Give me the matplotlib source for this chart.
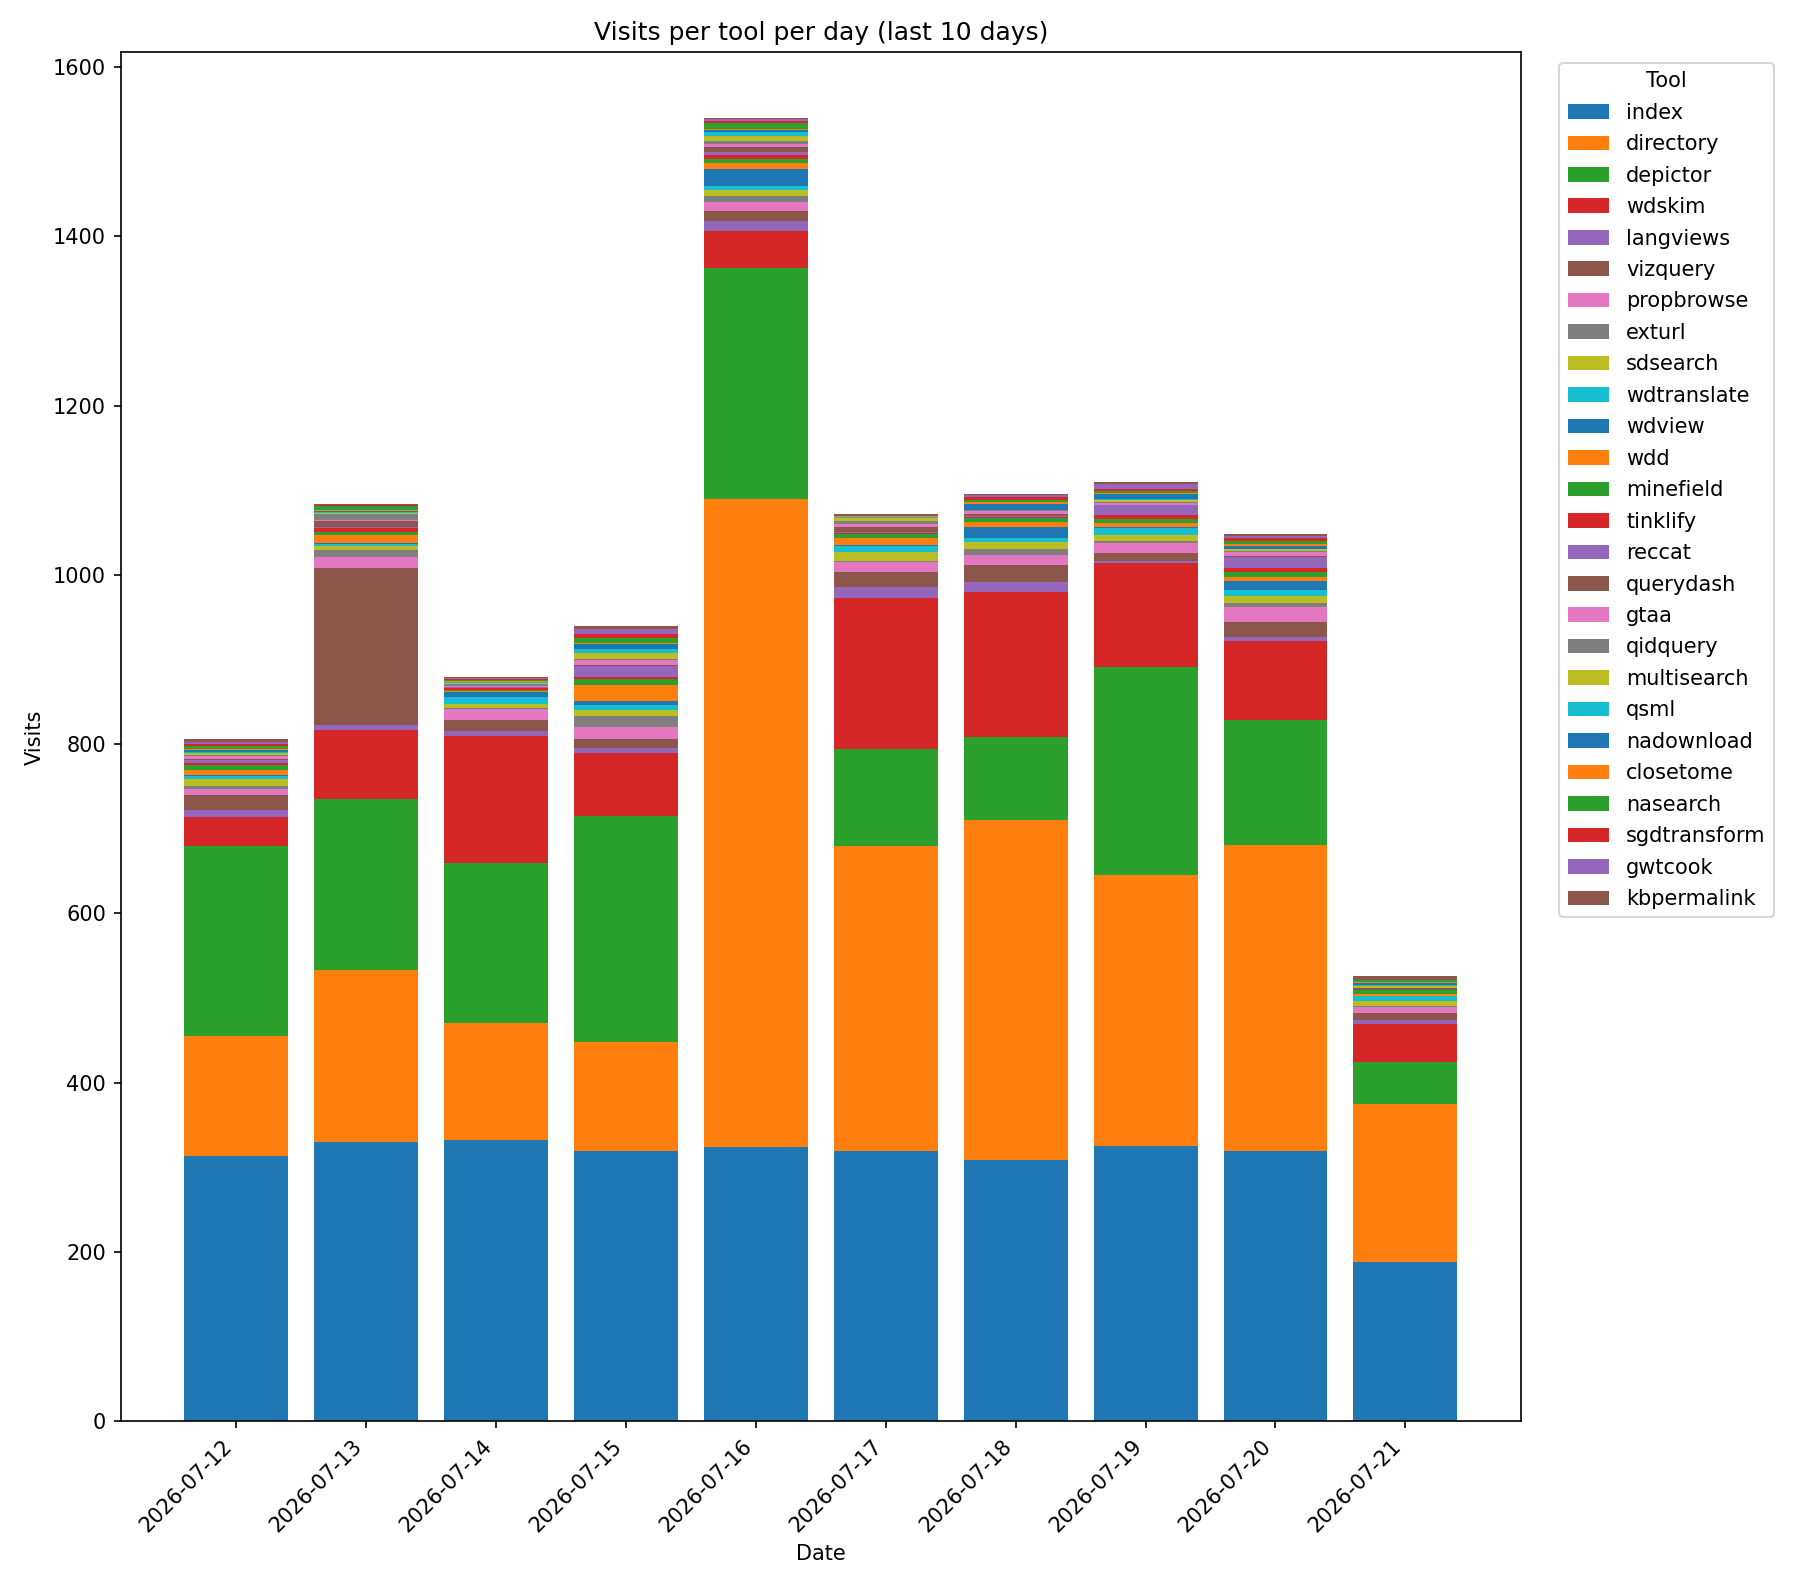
import numpy as np
import matplotlib
matplotlib.use('Agg')
import matplotlib.pyplot as plt

dates = ['2026-07-12', '2026-07-13', '2026-07-14', '2026-07-15', '2026-07-16',
         '2026-07-17', '2026-07-18', '2026-07-19', '2026-07-20', '2026-07-21']

tools = ['index', 'directory', 'depictor', 'wdskim', 'langviews', 'vizquery',
         'propbrowse', 'exturl', 'sdsearch', 'wdtranslate', 'wdview', 'wdd',
         'minefield', 'tinklify', 'reccat', 'querydash', 'gtaa', 'qidquery',
         'multisearch', 'qsml', 'nadownload', 'closetome', 'nasearch',
         'sgdtransform', 'gwtcook', 'kbpermalink']

# visits per day, one list per date, in tool order
day_0712 = [313, 142, 225, 34, 8, 18, 7, 3, 9, 3, 2, 6, 5, 3, 3, 2, 3, 1, 2, 2, 2, 1, 4, 2, 3, 3]
day_0713 = [330, 203, 202, 82, 6, 185, 13, 8, 5, 2, 2, 9, 4, 4, 2, 6, 2, 7, 1, 1, 1, 2, 4, 1, 1, 1]
day_0714 = [333, 138, 189, 150, 5, 13, 14, 1, 4, 9, 6, 1, 1, 2, 1, 1, 1, 2, 1, 1, 1, 1, 1, 1, 1, 1]
day_0715 = [320, 128, 267, 74, 7, 10, 14, 13, 7, 6, 5, 19, 7, 2, 13, 1, 6, 2, 7, 4, 6, 2, 5, 5, 6, 3]
day_0716 = [324, 765, 274, 43, 12, 12, 10, 7, 8, 4, 20, 8, 4, 5, 3, 6, 4, 3, 6, 5, 2, 2, 7, 2, 2, 2]
day_0717 = [320, 360, 114, 179, 13, 17, 12, 1, 11, 7, 1, 8, 5, 2, 1, 5, 4, 4, 3, 1, 0, 1, 0, 1, 0, 2]
day_0718 = [309, 401, 98, 172, 12, 20, 12, 7, 8, 4, 14, 5, 5, 1, 2, 2, 3, 1, 0, 1, 7, 2, 2, 4, 2, 2]
day_0719 = [325, 320, 246, 123, 2, 10, 12, 2, 7, 8, 2, 4, 5, 5, 11, 1, 2, 1, 2, 2, 5, 2, 2, 2, 6, 3]
day_0720 = [320, 361, 148, 93, 5, 17, 18, 5, 8, 7, 11, 4, 6, 5, 13, 1, 5, 1, 2, 1, 3, 2, 4, 4, 2, 2]
day_0721 = [188, 187, 50, 44, 5, 8, 7, 2, 6, 6, 0, 2, 5, 0, 0, 2, 0, 0, 2, 2, 2, 1, 2, 1, 0, 4]


def main():
    data = np.array([day_0712, day_0713, day_0714, day_0715, day_0716,
                     day_0717, day_0718, day_0719, day_0720, day_0721]).T

    fig = plt.figure(figsize=(12, 10.6), dpi=150)
    ax = fig.add_axes([0.067, 0.106, 0.778, 0.861])

    x = np.arange(len(dates))
    bottom = np.zeros(len(dates))
    for i, tool in enumerate(tools):
        ax.bar(x, data[i], bottom=bottom, label=tool, color=f'C{i % 10}')
        bottom += data[i]

    ax.set_xticks(x)
    ax.set_xticklabels(dates, rotation=45, ha='right')
    ax.set_title('Visits per tool per day (last 10 days)')
    ax.set_xlabel('Date')
    ax.set_ylabel('Visits')
    ax.legend(title='Tool', loc='upper left', bbox_to_anchor=(1.02, 1),
              labelspacing=0.55)

    fig.savefig('out.png', dpi=150)


if __name__ == "__main__":
    main()
